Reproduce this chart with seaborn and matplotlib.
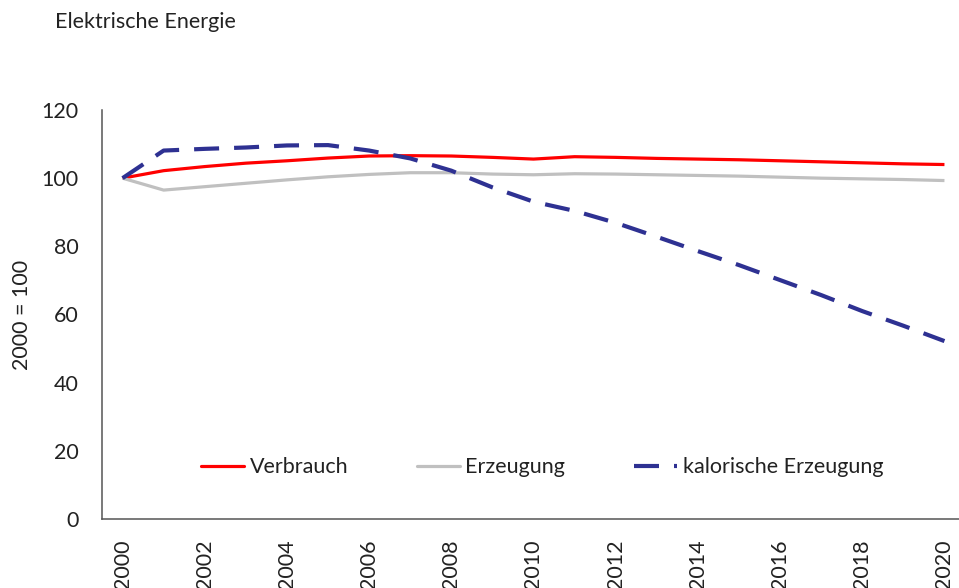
import matplotlib
matplotlib.use("Agg")
import numpy as np
import pandas as pd
import matplotlib.pyplot as plt
import seaborn as sns

YEARS = list(range(2000, 2021))
VERBRAUCH = [100.0, 102.2, 103.4, 104.4, 105.1, 105.9, 106.5, 106.6, 106.5, 106.1,
             105.6, 106.3, 106.1, 105.8, 105.6, 105.4, 105.1, 104.8, 104.5, 104.2, 104.0]
ERZEUGUNG = [100.0, 96.5, 97.5, 98.5, 99.5, 100.4, 101.1, 101.6, 101.6, 101.2,
             101.0, 101.3, 101.2, 101.0, 100.8, 100.6, 100.3, 100.0, 99.8, 99.6, 99.3]
KALORISCH = [100.0, 108.1, 108.6, 109.0, 109.6, 109.7, 108.1, 105.8, 102.2, 97.3,
             93.1, 90.4, 86.9, 82.8, 78.6, 74.5, 70.1, 65.7, 61.0, 56.7, 52.2]
SERIES = ["Verbrauch", "Erzeugung", "kalorische Erzeugung"]
Y_TICKS = [0, 20, 40, 60, 80, 100, 120]

sns.set_style("white")
plt.rcParams["font.family"] = ["Lato", "DejaVu Sans"]
FS = 15.5

df = pd.DataFrame({"Jahr": YEARS * 3,
                   "Index": VERBRAUCH + ERZEUGUNG + KALORISCH,
                   "Reihe": sum([[s] * len(YEARS) for s in SERIES], [])})

fig = plt.figure(figsize=(9.59, 5.88), dpi=100)
ax = fig.add_axes([102 / 959, 69 / 588, 863 / 959, 409 / 588])

palette = {"Verbrauch": "#FF0000", "Erzeugung": "#C0C0C0", "kalorische Erzeugung": "#2E3192"}
sns.lineplot(data=df, x="Jahr", y="Index", hue="Reihe", style="Reihe",
             palette=palette, hue_order=SERIES, style_order=SERIES,
             dashes={"Verbrauch": "", "Erzeugung": "", "kalorische Erzeugung": (6, 3.6)},
             ax=ax, legend=False)
for line, lw in zip(ax.lines, [2.3, 2.3, 3.0]):
    line.set_linewidth(lw)
    line.set_solid_capstyle("butt")

ax.set_xlim(1999.5, 2020.5)
ax.set_ylim(0, 120)
ax.set_yticks(Y_TICKS)
ax.set_xticks(YEARS)
ax.set_xticklabels([str(y) if y % 2 == 0 else "" for y in YEARS], rotation=90, va="top")
ax.set_xticks([y - 0.5 for y in YEARS] + [2020.5], minor=True)
ax.tick_params(axis="x", which="major", length=0, pad=15, labelsize=FS, labelcolor="#222222")
ax.tick_params(axis="x", which="minor", length=7, width=1.1, color="#555555", direction="out")
ax.tick_params(axis="y", length=7, width=1.1, color="#555555", pad=10, labelsize=FS,
               labelcolor="#222222", direction="out")

for side in ["top", "right"]:
    ax.spines[side].set_visible(False)
for side in ["left", "bottom"]:
    ax.spines[side].set_color("#555555")
    ax.spines[side].set_linewidth(1.1)

ax.set_xlabel("")
ax.set_ylabel("2000 = 100", fontsize=FS, color="#222222")
ax.yaxis.set_label_coords(-0.081, 0.5)

handles = [plt.Line2D([], [], color=palette["Verbrauch"], lw=2.3),
           plt.Line2D([], [], color=palette["Erzeugung"], lw=2.3),
           plt.Line2D([], [], color=palette["kalorische Erzeugung"], lw=3.0, dashes=(6, 3.6))]
ax.legend(handles, SERIES, loc="center", bbox_to_anchor=(0.51, 0.127), ncol=3, frameon=False,
          fontsize=FS, handlelength=2.0, handletextpad=0.25, columnspacing=3.2,
          labelcolor="#222222")

fig.text(55 / 959, 1 - 22 / 588, "Elektrische Energie", fontsize=FS, color="#222222",
         ha="left", va="center")

fig.savefig("out.png", dpi=100)
